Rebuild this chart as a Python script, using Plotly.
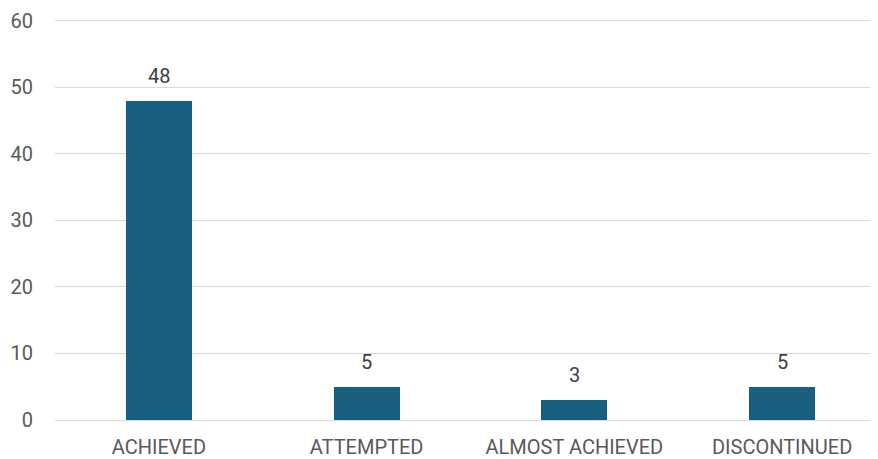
import plotly.graph_objects as go

categories = ["ACHIEVED", "ATTEMPTED", "ALMOST ACHIEVED", "DISCONTINUED"]
values = [48, 5, 3, 5]
y_ticks = [0, 10, 20, 30, 40, 50, 60]

FONT = "Roboto"
fig = go.Figure(go.Bar(
    x=categories, y=values,
    marker=dict(color="#185f80", line=dict(width=0)),
    width=0.318,
    hoverinfo="x+y",
))

for c, v in zip(categories, values):
    fig.add_annotation(x=c, y=v, text=str(v), showarrow=False,
                       yanchor="bottom", yshift=11,
                       font=dict(family=FONT, size=20, color="#404040"))

fig.update_layout(
    width=878, height=459,
    margin=dict(l=47, r=0, t=6, b=47, autoexpand=False),
    paper_bgcolor="white", plot_bgcolor="white",
    showlegend=False,
    bargap=0,
    xaxis=dict(range=[-0.5, 3.5], showgrid=False, showline=False, zeroline=False,
               automargin=False,
               tickfont=dict(family=FONT, size=20, color="#595959"),
               ticklabelstandoff=13),
    yaxis=dict(range=[0, 61], tickvals=y_ticks, showgrid=True, gridcolor="#d9d9d9",
               gridwidth=1.3, zeroline=True, zerolinecolor="#d9d9d9", zerolinewidth=1.3,
               showline=False, automargin=False,
               tickfont=dict(family=FONT, size=20, color="#595959"),
               ticklabelstandoff=21),
)

fig.write_html("out.html")
